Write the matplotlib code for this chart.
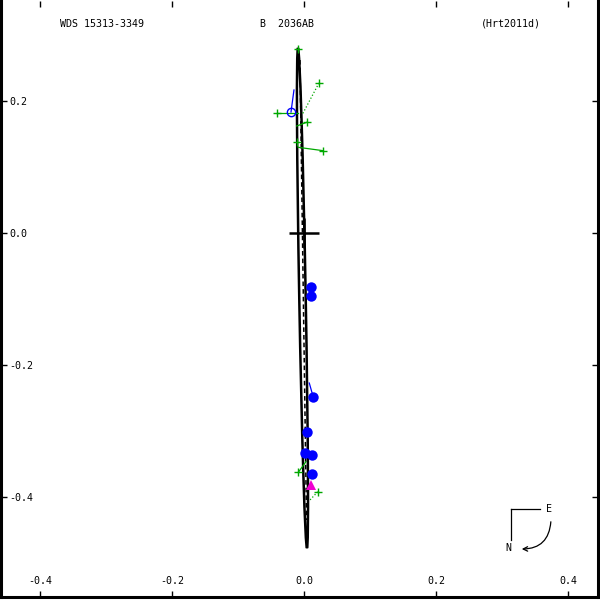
#!/usr/bin/env python3
"""Relative orbit plot for WDS 15313-3349 (B 2036AB), redrawn with matplotlib."""
import matplotlib
matplotlib.use('Agg')
import matplotlib.pyplot as plt
from matplotlib.patches import Ellipse, FancyArrowPatch

plt.rcParams['font.family'] = ['DejaVu Sans Mono']
plt.rcParams['axes.unicode_minus'] = False

# --- header texts
title_left = 'WDS 15313-3349'
title_mid = 'B  2036AB'
title_right = '(Hrt2011d)'

# --- axis ticks (arcsec)
x_ticks = [-0.4, -0.2, 0.0, 0.2, 0.4]
x_tick_labels = ['-0.4', '-0.2', '0.0', '0.2', '0.4']
y_ticks = [0.2, 0.0, -0.2, -0.4]
y_tick_labels = ['0.2', '0.0', '-0.2', '-0.4']

# --- apparent orbit (ellipse)
orbit_center = (-0.0023, -0.0985)
orbit_major = 0.7577
orbit_minor = 0.0098
orbit_angle = 91.03

# line of apsides
apsis_x = [-0.0061, 0.0038]
apsis_y = [0.2621, -0.4348]

# --- observations
# filled blue circles
filled_x = [0.0106, 0.0106, 0.0141, 0.0050, 0.0015, 0.0114, 0.0126]
filled_y = [-0.0818, -0.0955, -0.2489, -0.3011, -0.3338, -0.3364, -0.3656]
# O-C line for the one visible residual
filled_fit_x = [0.0106, 0.0106, 0.0080, 0.0050, 0.0015, 0.0114, 0.0126]
filled_fit_y = [-0.0818, -0.0955, -0.2273, -0.3011, -0.3338, -0.3364, -0.3656]

# open blue circle
open_x = [-0.0197]
open_y = [0.1833]
open_fit_x = [-0.0152]
open_fit_y = [0.2167]

# green plus measures
plus_x = [-0.0086, 0.0227, -0.0409, 0.0041, -0.0102, 0.0292, -0.0086, 0.0208]
plus_y = [0.2788, 0.2273, 0.1823, 0.1677, 0.1374, 0.1247, -0.3626, -0.3920]
plus_fit_x = [-0.0086, -0.0030, -0.0091, -0.0111, -0.0102, -0.0086, 0.0030, 0.0091]
plus_fit_y = [0.2788, 0.1788, 0.1823, 0.1621, 0.1374, 0.1298, -0.3465, -0.4045]
plus_dotted = [False, True, False, False, False, False, False, True]

# magenta triangle
tri_x = [0.0106]
tri_y = [-0.3818]

GREEN = '#00a800'
BLUE = '#0000ff'
MAGENTA = '#f000d0'
FS = 7.2

fig = plt.figure(figsize=(6, 6), dpi=100)
# axes box in pixels: x 1..598, y 3..599 from bottom
ax = fig.add_axes([1 / 600, 3 / 600, 597 / 600, 596 / 600])
ax.set_xlim((1 - 304) / 660, (598 - 304) / 660)
ax.set_ylim((233 - 597) / 660, (233 - 1) / 660)

for side in ('left', 'bottom', 'right'):
    ax.spines[side].set_linewidth(2.2)
ax.spines['top'].set_visible(False)

ax.set_xticks(x_ticks)
ax.set_xticklabels(x_tick_labels)
ax.set_yticks(y_ticks)
ax.set_yticklabels(y_tick_labels)
ax.tick_params(axis='x', direction='in', length=4, width=1, top=True,
               labelsize=FS, pad=-15)
ax.tick_params(axis='y', direction='in', length=4, width=1, right=True,
               labelsize=FS, pad=-6)
for lab in ax.get_yticklabels():
    lab.set_horizontalalignment('left')

# orbit and line of apsides
ax.add_patch(Ellipse(orbit_center, orbit_major, orbit_minor, angle=orbit_angle,
                     fill=False, edgecolor='black', linewidth=1.8, zorder=2))
ax.plot(apsis_x, apsis_y, color='black', linestyle=(0, (3, 2)), linewidth=1.1, zorder=2)

# origin
ax.plot([0], [0], marker='+', markersize=22, markeredgewidth=1.8, color='black', zorder=3)

# residual lines
for ox, oy, fx, fy, dotted in zip(plus_x, plus_y, plus_fit_x, plus_fit_y, plus_dotted):
    ax.plot([ox, fx], [oy, fy], color=GREEN, linewidth=0.9,
            linestyle=':' if dotted else '-', zorder=3)
for ox, oy, fx, fy in zip(filled_x, filled_y, filled_fit_x, filled_fit_y):
    ax.plot([ox, fx], [oy, fy], color=BLUE, linewidth=0.9, zorder=3)
for ox, oy, fx, fy in zip(open_x, open_y, open_fit_x, open_fit_y):
    ax.plot([ox, fx], [oy, fy], color=BLUE, linewidth=0.9, zorder=3)

# markers
ax.plot(plus_x, plus_y, linestyle='none', marker='+', markersize=6,
        markeredgewidth=1.0, color=GREEN, zorder=4)
ax.plot(filled_x, filled_y, linestyle='none', marker='o', markersize=7.5,
        color=BLUE, markeredgewidth=0, zorder=4)
ax.plot(open_x, open_y, linestyle='none', marker='o', markersize=6,
        markerfacecolor='none', markeredgecolor=BLUE, markeredgewidth=1.0, zorder=4)
ax.plot(tri_x, tri_y, linestyle='none', marker='^', markersize=7,
        color=MAGENTA, markeredgewidth=0, zorder=4)

# header
fig.text(60 / 600, 1 - 24 / 600, title_left, fontsize=FS, va='center', ha='left')
fig.text(260 / 600, 1 - 24 / 600, title_mid, fontsize=FS, va='center', ha='left')
fig.text(481 / 600, 1 - 24 / 600, title_right, fontsize=FS, va='center', ha='left')

# compass
def fp(px, py):
    return (px / 600, 1 - py / 600)

fig.add_artist(plt.Line2D([fp(511, 509)[0], fp(540, 509)[0]],
                          [fp(511, 509)[1], fp(540, 509)[1]],
                          color='black', linewidth=0.9, transform=fig.transFigure))
fig.add_artist(plt.Line2D([fp(511, 509)[0], fp(511, 540)[0]],
                          [fp(511, 509)[1], fp(511, 540)[1]],
                          color='black', linewidth=0.9, transform=fig.transFigure))
fig.text(*fp(549, 509), 'E', fontsize=FS, ha='center', va='center')
fig.text(*fp(508, 548), 'N', fontsize=FS, ha='center', va='center')
fig.add_artist(FancyArrowPatch(fp(551, 519), fp(519, 549), transform=fig.transFigure,
                               connectionstyle='arc3,rad=-0.5', arrowstyle='->',
                               mutation_scale=8, color='black', linewidth=0.9))

fig.savefig('out.png', dpi=100)
